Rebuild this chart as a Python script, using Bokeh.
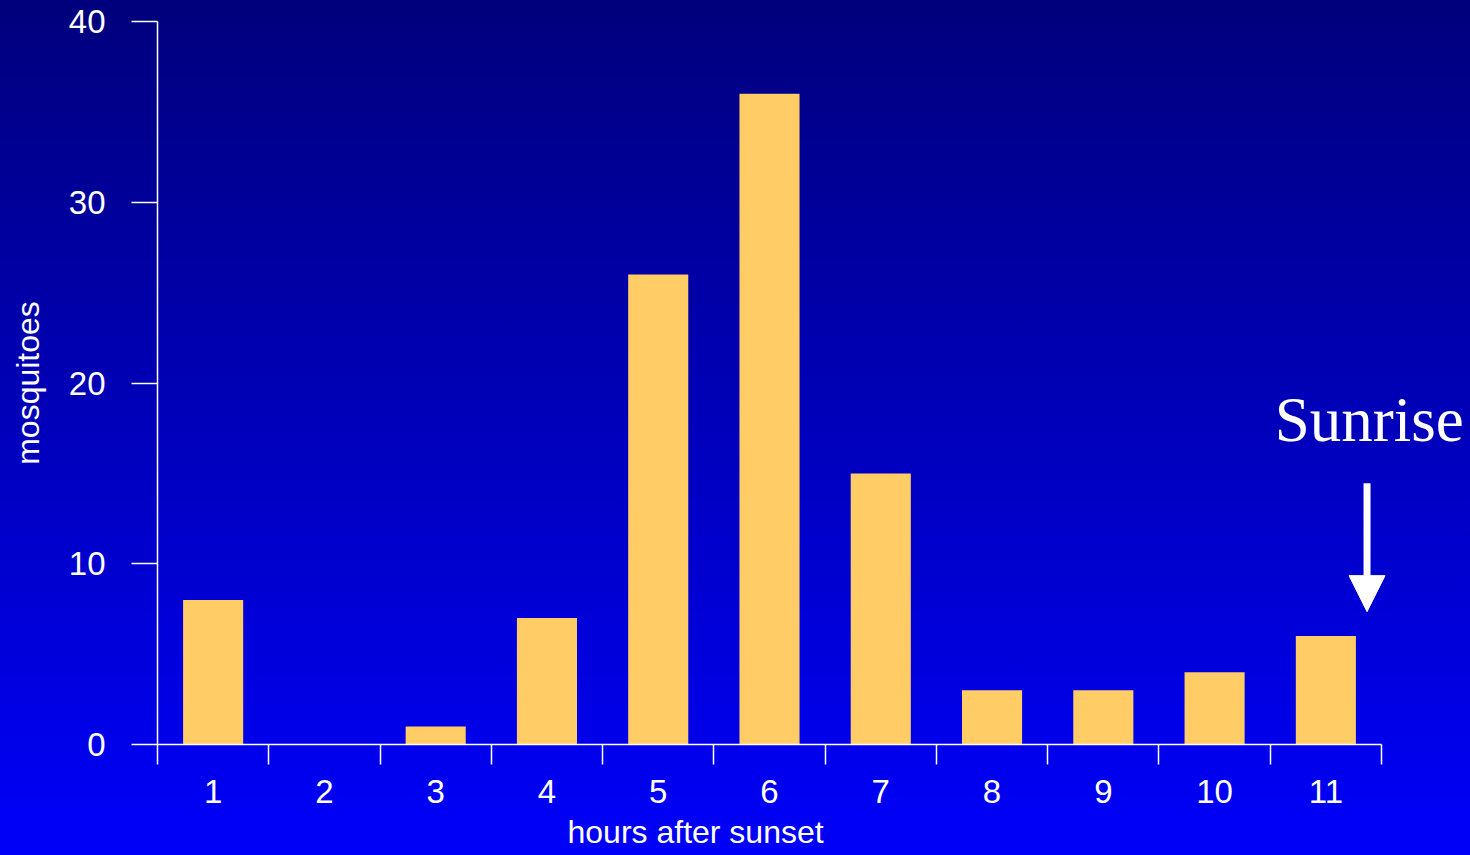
from bokeh.plotting import figure
from bokeh.models import Range1d, FixedTicker, Label, Arrow, NormalHead, ColumnDataSource, Title
from bokeh.embed import file_html
from bokeh.resources import INLINE

# ---- data ----
hours = [1, 2, 3, 4, 5, 6, 7, 8, 9, 10, 11]
hour_labels = ["1", "2", "3", "4", "5", "6", "7", "8", "9", "10", "11"]
mosquitoes = [8, 0, 1, 7, 26, 36, 15, 3, 3, 4, 6]
y_ticks = [0, 10, 20, 30, 40]
x_title = "hours after sunset"
y_title = "mosquitoes"
note = "Sunrise"

FONT = "Liberation Sans"
WHITE = "white"

W, H = 1470, 855
LEFT, RIGHT_AXIS_END = 157, 1381
px_per_unit = (RIGHT_AXIS_END - LEFT) / len(hours)
x_lo = hours[0] - 0.5
x_hi_axis = hours[-1] + 0.5
x_hi = x_hi_axis + (W - RIGHT_AXIS_END) / px_per_unit

src = ColumnDataSource(dict(x=hours, top=mosquitoes))

p = figure(width=W, height=H, output_backend="svg", toolbar_location=None,
           x_range=Range1d(x_lo, x_hi),
           y_range=Range1d(y_ticks[0], y_ticks[-1]),
           min_border_left=LEFT, min_border_right=0,
           min_border_top=21, min_border_bottom=111)

p.border_fill_color = None
p.background_fill_color = None
p.outline_line_color = None
p.grid.visible = False
p.styles = {"background": "linear-gradient(to bottom, #00007c 0%, #0000fa 100%)"}

p.vbar(x="x", top="top", bottom=0, width=0.54, source=src,
       fill_color="#FFCC66", line_color=None)

# x axis: labels at centres, ticks at category boundaries
xa = p.xaxis[0]
xa.bounds = (x_lo, x_hi_axis)
xa.ticker = FixedTicker(ticks=hours,
                        minor_ticks=[h - 0.5 for h in hours] + [x_hi_axis])
xa.major_label_overrides = {h: l for h, l in zip(hours, hour_labels)}
xa.major_tick_out = 0
xa.major_tick_in = 0
xa.minor_tick_out = 20
xa.minor_tick_in = 0
xa.minor_tick_line_color = WHITE
xa.minor_tick_line_width = 1.5
xa.axis_line_color = WHITE
xa.axis_line_width = 1.5
xa.major_label_text_color = WHITE
xa.major_label_text_font = FONT
xa.major_label_text_font_size = "33px"
xa.major_label_standoff = 15

# y axis
ya = p.yaxis[0]
ya.ticker = FixedTicker(ticks=y_ticks, minor_ticks=[])
ya.major_tick_out = 26
ya.major_tick_in = 0
ya.minor_tick_out = 0
ya.minor_tick_in = 0
ya.major_tick_line_color = WHITE
ya.major_tick_line_width = 1.5
ya.axis_line_color = WHITE
ya.axis_line_width = 1.5
ya.major_label_text_color = WHITE
ya.major_label_text_font = FONT
ya.major_label_text_font_size = "33px"
ya.major_label_standoff = 26
ya.axis_label = y_title
ya.axis_label_text_color = WHITE
ya.axis_label_text_font = FONT
ya.axis_label_text_font_size = "32px"
ya.axis_label_text_font_style = "normal"
ya.axis_label_standoff = 20

# x axis title (sits left of centre, as in the original)
p.add_layout(Title(text=x_title, text_color=WHITE, text_font=FONT,
                   text_font_size="32px", text_font_style="normal",
                   align="left", offset=410, standoff=12), "below")

# Sunrise annotation
sx = hours[-1] + 0.37
p.add_layout(Label(x=hours[-1] + 0.39, y=17.98, text=note, text_color=WHITE,
                   text_font="Liberation Serif", text_font_size="63px",
                   text_align="center", text_baseline="alphabetic"))
p.add_layout(Arrow(x_start=sx, y_start=14.45, x_end=sx, y_end=7.35,
                   line_color=WHITE, line_width=7,
                   end=NormalHead(size=36, fill_color=WHITE, line_color=WHITE)))

open("out.html", "w").write(file_html(p, INLINE))
